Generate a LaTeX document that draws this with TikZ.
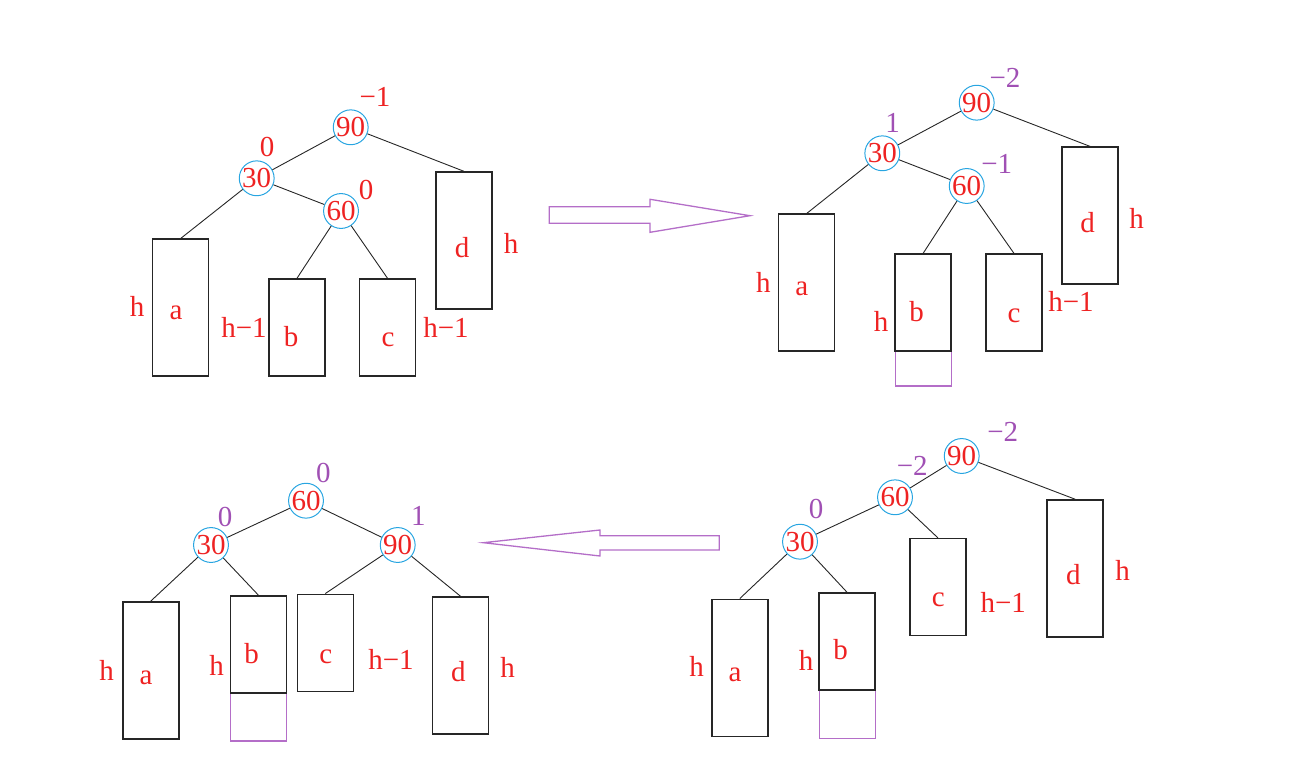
\documentclass[tikz,border=0pt]{standalone}
\usepackage{fontspec}
\setmainfont{Liberation Serif}
\definecolor{txtred}{RGB}{238,34,34}
\definecolor{balpurple}{RGB}{160,80,180}
\definecolor{ringblue}{RGB}{40,165,225}
\definecolor{arrowpurple}{RGB}{180,110,200}
\begin{document}
\begin{tikzpicture}[x=1pt,y=-1pt,
	keynode/.style={circle, draw=ringblue, line width=1pt, minimum size=34pt, inner sep=0pt, text=txtred, font=\fontsize{29}{31}\selectfont},
	subtree/.style={draw=black!85, line width=1.5pt, minimum width=56pt, inner sep=0pt},
	tallbox/.style={subtree, minimum height=137pt},
	shortbox/.style={subtree, minimum height=97pt},
	grown/.style={draw=arrowpurple, line width=1.1pt, minimum width=56pt, inner sep=0pt},
	letter/.style={text=txtred, inner sep=0pt, font=\fontsize{29}{31}\selectfont},
	balred/.style={letter},
	balpur/.style={letter, text=balpurple},
	link/.style={black!85, line width=0.9pt},
	block/.style={draw=arrowpurple, line width=1.3pt, line join=miter}
]
	\useasboundingbox (0,0) rectangle (1306,767);

	% before insertion
	\node[keynode] (p90) at (350.7,127.3) {90};
	\node[keynode] (p30) at (256.7,178.3) {30};
	\node[keynode] (p60) at (341,211) {60};

	\node[tallbox] (pa) at (180.7,307.7) {};
	\node[shortbox] (pb) at (297,327.5) {};
	\node[shortbox] (pc) at (387.5,327.5) {};
	\node[tallbox] (pd) at (463.8,240.5) {};

	\draw[link] (p90) -- (p30);
	\draw[link] (p90) -- (pd.north);
	\draw[link] (p30) -- (pa.north);
	\draw[link] (p30) -- (p60);
	\draw[link] (p60) -- (pb.north);
	\draw[link] (p60) -- (pc.north);

	\node[balred] (pb90) at (375,97) {−1};
	\node[balred] (pb30) at (267,147) {0};
	\node[balred] (pb60) at (366,190) {0};

	\node[letter] (pla) at (176,313) {a};
	\node[letter] (plb) at (291,337) {b};
	\node[letter] (plc) at (388,340) {c};
	\node[letter] (pld) at (462,248) {d};
	\node[letter] (pha) at (137,306) {h};
	\node[letter] (phb) at (244,327) {h−1};
	\node[letter] (phc) at (446,327) {h−1};
	\node[letter] (phd) at (511,243) {h};

	% arrow
	\draw[block] (549.3,206.7) -- (650,206.7) -- (650,199.3) -- (750,215.7)
		-- (650,232.3) -- (650,223.3) -- (549.3,223.3) -- cycle;

	% after insertion
	\node[keynode] (q90) at (976.7,102.7) {90};
	\node[keynode] (q30) at (882.3,153.3) {30};
	\node[keynode] (q60) at (966.7,186) {60};

	\node[grown, minimum height=35pt] (qbx) at (923.2,368.5) {};
	\node[tallbox] (qa) at (806.7,282.7) {};
	\node[shortbox] (qb) at (923.2,302.5) {};
	\node[shortbox] (qc) at (1013.9,302.5) {};
	\node[tallbox] (qd) at (1090.2,215.7) {};

	\draw[link] (q90) -- (q30);
	\draw[link] (q90) -- (qd.north);
	\draw[link] (q30) -- (qa.north);
	\draw[link] (q30) -- (q60);
	\draw[link] (q60) -- (qb.north);
	\draw[link] (q60) -- (qc.north);

	\node[balpur] (qb90) at (1005,78) {−2};
	\node[balpur] (qb30) at (892.7,123.3) {1};
	\node[balpur] (qb60) at (996.7,164) {−1};

	\node[letter] (qla) at (801.7,289.3) {a};
	\node[letter] (qlb) at (916.7,311.7) {b};
	\node[letter] (qlc) at (1014,316) {c};
	\node[letter] (qld) at (1087.7,222.3) {d};
	\node[letter] (qha) at (763.3,282.7) {h};
	\node[letter] (qhb) at (881,321.7) {h};
	\node[letter] (qhc) at (1071,301.7) {h−1};
	\node[letter] (qhd) at (1136.7,218.3) {h};

	% after first rotation
	\node[keynode] (s90) at (961.7,456) {90};
	\node[keynode] (s60) at (895,497.3) {60};
	\node[keynode] (s30) at (800,541.7) {30};

	\node[grown, minimum height=48pt] (sbx) at (847.2,714.2) {};
	\node[tallbox] (sa) at (739.8,667.8) {};
	\node[shortbox] (sb) at (847.2,641.7) {};
	\node[shortbox] (sc) at (938,587.2) {};
	\node[tallbox] (sd) at (1075.2,568.5) {};

	\draw[link] (s90) -- (s60);
	\draw[link] (s90) -- (sd.north);
	\draw[link] (s60) -- (s30);
	\draw[link] (s60) -- (sc.north);
	\draw[link] (s30) -- (sa.north);
	\draw[link] (s30) -- (sb.north);

	\node[balpur] (sb90) at (1002.7,431.7) {−2};
	\node[balpur] (sb60) at (912.3,465.7) {−2};
	\node[balpur] (sb30) at (816,509.3) {0};

	\node[letter] (sla) at (735,675) {a};
	\node[letter] (slb) at (840.7,650) {b};
	\node[letter] (slc) at (938.3,600) {c};
	\node[letter] (sld) at (1073.3,575) {d};
	\node[letter] (sha) at (696.7,666) {h};
	\node[letter] (shb) at (806,660) {h};
	\node[letter] (shc) at (1003.3,602.7) {h−1};
	\node[letter] (shd) at (1122.7,570) {h};

	% arrow
	\draw[block] (719.3,535.7) -- (600,535.7) -- (600,530) -- (483.3,542.7)
		-- (600,556) -- (600,550) -- (719.3,550) -- cycle;

	% balanced
	\node[keynode] (t60) at (306,500.7) {60};
	\node[keynode] (t30) at (211,545) {30};
	\node[keynode] (t90) at (397.7,545) {90};

	\node[grown, minimum height=48pt] (tbx) at (258.3,717) {};
	\node[tallbox] (ta) at (150.8,670.3) {};
	\node[shortbox] (tb) at (258.3,644.3) {};
	\node[shortbox] (tc) at (325.3,642.8) {};
	\node[tallbox] (td) at (460.3,665.3) {};

	\draw[link] (t60) -- (t30);
	\draw[link] (t60) -- (t90);
	\draw[link] (t30) -- (ta.north);
	\draw[link] (t30) -- (tb.north);
	\draw[link] (t90) -- (tc.north);
	\draw[link] (t90) -- (td.north);

	\node[balpur] (tb60) at (323.3,472.7) {0};
	\node[balpur] (tb30) at (225,516.7) {0};
	\node[balpur] (tb90) at (418.3,516) {1};

	\node[letter] (tla) at (146,677.7) {a};
	\node[letter] (tlb) at (251.7,654) {b};
	\node[letter] (tlc) at (325.7,656.7) {c};
	\node[letter] (tld) at (458.3,671.7) {d};
	\node[letter] (tha) at (106.7,670) {h};
	\node[letter] (thb) at (216.7,665) {h};
	\node[letter] (thc) at (391,659.3) {h−1};
	\node[letter] (thd) at (507.7,667.3) {h};

\end{tikzpicture}
\end{document}
